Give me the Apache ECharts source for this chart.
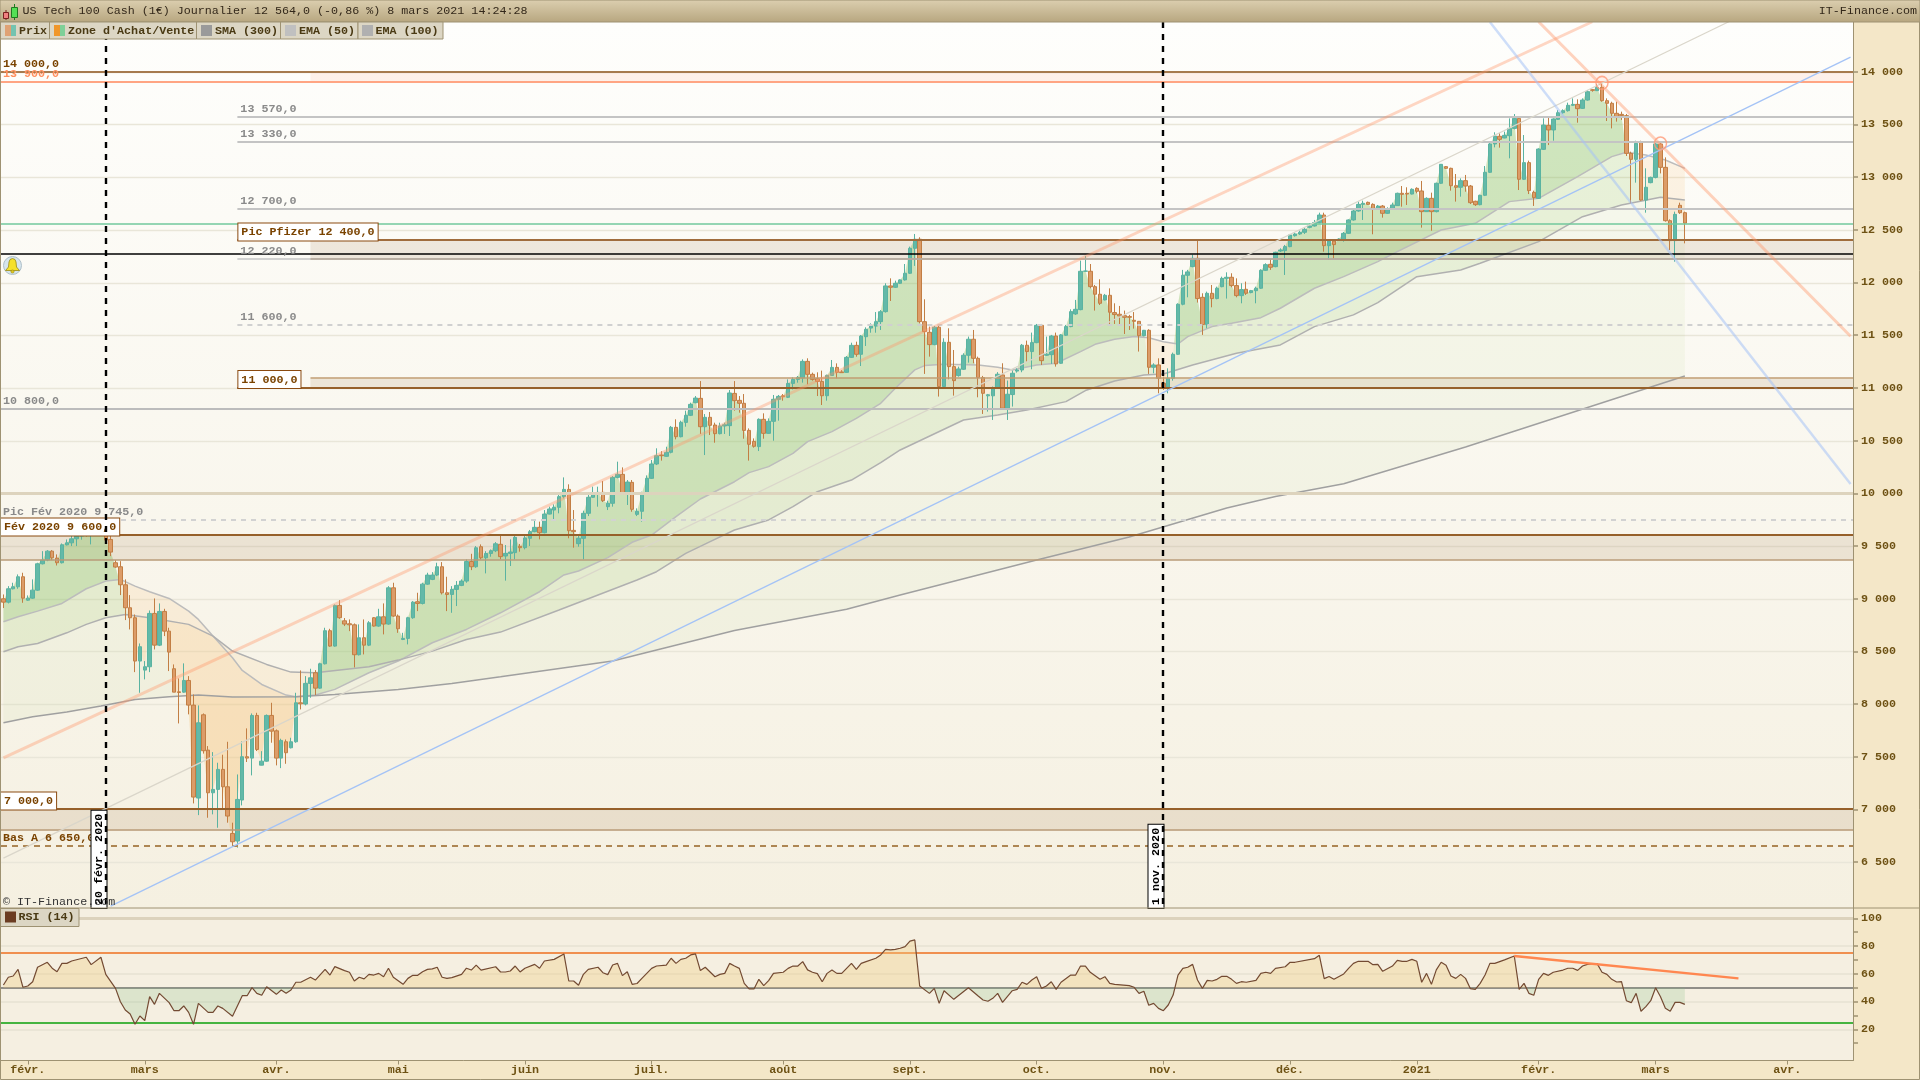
<!DOCTYPE html>
<html><head><meta charset="utf-8"><title>US Tech 100 Cash</title>
<style>html,body{margin:0;padding:0;background:#f4e7c8}#c{width:1920px;height:1080px}</style>
<script src="https://cdn.jsdelivr.net/npm/echarts@6/dist/echarts.min.js"></script></head>
<body><div id="c"></div><script>
const opens=[8999,8967,9094,9113,9208,8986,9005,9081,9331,9366,
9451,9385,9341,9511,9530,9568,9594,9640,9620,9680,
9710,9640,9562,9341,9303,9132,8914,8819,8408,8322,
8354,8860,8559,8879,8692,8335,8116,8113,8224,7990,
7108,7898,7563,7158,7190,7380,7215,6772,6700,7089,
7500,7487,7892,7420,7458,7892,7746,7487,7642,7585,
7642,8012,8000,8196,8297,8151,8382,8696,8550,8936,
8790,8762,8752,8468,8629,8559,8819,8740,8828,8759,
9103,8835,8613,8623,8819,8971,8955,9138,9183,9224,
9303,9056,9040,9088,9126,9167,9353,9303,9493,9388,
9429,9455,9516,9405,9430,9437,9497,9484,9573,9636,
9677,9626,9803,9841,9867,9968,10037,9648,9522,9573,
9810,9962,9990,10009,9873,9905,10151,10180,10000,10104,
9800,9829,10000,10142,10278,10364,10351,10389,10626,10537,
10673,10740,10860,10901,10632,10721,10648,10566,10639,10642,
10948,10882,10854,10597,10493,10443,10702,10569,10683,10892,
10926,10911,11043,11081,11094,11252,11129,11088,11062,10926,
11119,11195,11152,11148,11290,11404,11319,11486,11568,11587,
11629,11724,11968,11955,11993,12025,12088,12325,12411,11629,
11528,11411,11576,11013,11433,11202,11117,11177,11310,11462,
11281,11098,10925,10925,10997,11123,10807,10937,11160,11170,
11405,11345,11430,11594,11310,11316,11493,11234,11500,11582,
11702,11743,12107,12107,11961,11889,11835,11879,11715,11699,
11686,11677,11642,11632,11496,11547,11196,11218,11044,11007,
11092,11319,11794,12069,12151,12230,11860,11601,11898,11848,
11961,12040,12050,11971,11876,11936,11905,11923,11946,12116,
12173,12151,12300,12303,12341,12445,12461,12477,12524,12537,
12568,12641,12350,12394,12404,12404,12467,12594,12679,12742,
12761,12742,12698,12726,12657,12695,12730,12847,12847,12840,
12894,12869,12673,12799,12673,12942,13100,13084,12919,12904,
12967,12916,12771,12739,12828,13046,13315,13388,13372,13394,
13463,13558,12980,13138,12856,12799,13264,13492,13448,13549,
13612,13631,13682,13691,13653,13732,13830,13821,13853,13726,
13701,13606,13596,13584,13226,13169,13331,12783,12948,12998,
13315,13093,12587,12398,12733,12663];
const closes=[8967,9094,9113,9208,9005,9005,9081,9331,9366,9451,
9388,9341,9511,9530,9568,9594,9640,9620,9680,9710,
9720,9556,9442,9300,9132,8914,8819,8408,8544,8354,
8860,8559,8879,8692,8493,8113,8110,8224,7990,7117,
7822,7557,7158,7190,7380,7215,6937,6693,7095,7500,
7487,7892,7569,7458,7892,7743,7487,7655,7538,7642,
8012,8002,8196,8249,8151,8382,8696,8550,8936,8819,
8759,8752,8468,8629,8559,8771,8740,8828,8759,9103,
8835,8714,8623,8819,8967,8955,9138,9224,9224,9303,
9056,9040,9088,9126,9167,9353,9303,9483,9388,9429,
9455,9521,9399,9430,9443,9582,9484,9576,9636,9677,
9626,9803,9851,9867,9968,10037,9645,9636,9573,9810,
9962,9990,10009,9930,9905,10151,10180,10000,10107,9848,
9829,10000,10142,10278,10357,10357,10389,10626,10537,10673,
10740,10844,10904,10632,10721,10645,10566,10639,10651,10952,
10879,10854,10597,10465,10446,10702,10569,10683,10892,10920,
10917,11043,11081,11100,11252,11129,11081,11062,10926,11119,
11195,11148,11145,11290,11404,11319,11492,11556,11587,11629,
11723,11968,11955,11993,12025,12088,12325,12411,11629,11534,
11411,11576,11013,11433,11202,11069,11180,11310,11462,11281,
11098,10949,10935,10997,11130,10807,10940,11139,11170,11405,
11345,11430,11594,11259,11320,11493,11228,11503,11582,11724,
11746,12107,12110,11961,11889,11803,11879,11718,11696,11683,
11670,11670,11632,11496,11547,11196,11218,11092,10997,11092,
11319,11794,12069,12101,12230,11848,11601,11898,11848,11946,
12040,12050,11971,11876,11933,11898,11923,11946,12116,12170,
12145,12287,12309,12341,12452,12461,12477,12505,12537,12569,
12641,12350,12394,12360,12413,12467,12594,12679,12742,12752,
12742,12698,12726,12657,12695,12736,12847,12837,12840,12885,
12866,12673,12799,12673,12942,13122,13084,12919,12904,12967,
12916,12758,12739,12828,13046,13315,13391,13359,13397,13463,
13558,12980,13138,12872,12806,13267,13495,13448,13552,13612,
13631,13682,13691,13650,13732,13811,13824,13853,13726,13701,
13606,13568,13584,13226,13169,13321,12783,12904,12998,13315,
13093,12587,12398,12647,12663,12564];
const lows=[8911,8955,9088,9094,8961,8980,8999,9075,9325,9356,
9366,9315,9334,9505,9499,9499,9560,9590,9515,9650,
9640,9530,9404,9293,9034,8797,8708,8303,8107,8234,
8303,8518,8550,8645,8313,8113,7816,8107,7902,7057,
6946,7530,6921,6953,6826,7000,6874,6652,6637,7038,
7450,7323,7554,7418,7452,7633,7418,7392,7433,7579,
7633,7949,7987,8060,8085,8145,8376,8544,8544,8809,
8740,8692,8348,8461,8471,8550,8735,8733,8661,8752,
8828,8676,8607,8566,8809,8882,8945,9132,9176,9214,
9040,8882,8866,8930,9119,9151,9271,9293,9372,9240,
9398,9442,9373,9171,9310,9373,9446,9468,9500,9630,
9563,9620,9800,9740,9810,9952,9573,9484,9493,9373,
9784,9958,9873,9917,9841,9873,10142,9984,9889,9825,
9784,9731,9993,10136,10268,10310,10347,10379,10512,10531,
10632,10733,10854,10563,10363,10553,10480,10559,10563,10544,
10784,10765,10518,10310,10433,10401,10518,10566,10499,10689,
10879,10904,10986,11050,11050,11034,11069,10923,10838,10879,
11113,11091,11145,11145,11284,11296,11208,11398,11524,11524,
11550,11715,11825,11949,11987,12018,12082,12158,11613,11133,
11297,11405,10918,11006,11082,10927,11107,11171,11240,11234,
10911,10753,10775,10696,10990,10797,10696,10823,11145,11149,
11250,11177,11424,11218,11304,11228,11202,11228,11493,11576,
11693,11737,12100,11945,11734,11787,11830,11598,11607,11594,
11512,11550,11563,11345,11490,11133,11139,10949,10981,10949,
11069,11313,11784,11860,12145,11810,11503,11566,11765,11841,
11955,11848,11955,11860,11803,11882,11898,11803,11939,12110,
12120,12145,12290,12072,12335,12436,12452,12461,12515,12531,
12562,12293,12214,12224,12400,12388,12461,12587,12672,12594,
12736,12458,12695,12616,12651,12689,12727,12720,12736,12836,
12847,12521,12670,12492,12666,12935,13078,12872,12768,12815,
12862,12745,12727,12733,12821,13040,13283,13280,13369,13179,
13454,12878,12973,12840,12727,12793,13258,13305,13346,13543,
13600,13622,13675,13517,13647,13726,13811,13818,13716,13533,
13463,13527,13543,13201,12752,12948,12777,12663,12942,12989,
13036,12578,12309,12198,12651,12372];
const highs=[9040,9119,9151,9230,9246,9031,9183,9341,9451,9461,
9461,9420,9524,9562,9610,9641,9670,9660,9720,9760,
9760,9700,9594,9366,9356,9183,9034,8850,8575,8408,
8888,9002,8955,8904,8724,8376,8243,8386,8265,8091,
7987,7911,7601,7544,7443,7519,7642,6874,7332,7645,
7769,7911,7917,7553,7901,8012,7759,7671,7664,7680,
8107,8319,8265,8335,8322,8392,8724,8714,8945,8986,
8816,8803,8765,8756,8803,8787,8825,8904,8955,9119,
9151,8850,8676,8828,8977,9056,9151,9246,9252,9341,
9347,9208,9119,9167,9183,9372,9426,9499,9515,9451,
9467,9537,9604,9509,9563,9595,9519,9595,9652,9747,
9731,9841,9873,9895,9993,10151,10085,9841,9595,9835,
9993,10063,10063,10117,9930,10164,10300,10246,10126,10126,
9857,10015,10170,10316,10427,10400,10442,10639,10702,10689,
10784,10860,10923,11065,10752,10771,10670,10670,10670,10980,
11065,10923,10942,10616,10521,10711,10759,10711,10933,10933,
10942,11081,11100,11113,11271,11281,11145,11148,11164,11126,
11265,11233,11170,11303,11429,11439,11502,11575,11613,11720,
11739,11993,12040,12018,12031,12176,12341,12461,12430,11841,
11582,11588,11588,11471,11566,11360,11202,11329,11487,11550,
11297,11114,10943,11013,11150,11234,11070,11164,11186,11417,
11449,11525,11607,11607,11487,11503,11525,11512,11598,11746,
11835,12208,12252,12176,11977,12031,11892,11945,11803,11778,
11734,11693,11720,11632,11550,11557,11234,11281,11107,11186,
11335,11803,12120,12120,12265,12411,11898,11914,11977,11961,
12056,12097,12088,12040,11993,12009,11930,11961,12126,12183,
12230,12293,12325,12357,12461,12474,12493,12524,12562,12594,
12663,12663,12404,12410,12420,12480,12600,12695,12768,12777,
12768,12752,12736,12736,12714,12758,12853,12916,12904,12894,
12904,12964,12809,12853,12948,13125,13106,13090,13030,12989,
13021,12926,12777,12834,13106,13328,13426,13416,13432,13558,
13599,13568,13400,13157,12872,13274,13558,13574,13558,13637,
13644,13707,13748,13739,13748,13827,13836,13884,13897,13748,
13716,13716,13622,13600,13242,13346,13346,13084,13005,13328,
13325,13188,12600,12673,12758,12673];

const ema50=[[0,8781],[3,8828],[7,8882],[12,8955],[17,9094],[21,9167],[24,9183],[27,9119],[30,9066],[34,9002],[38,8882],[40,8803],[43,8645],[47,8439],[49,8319],[53,8186],[58,8085],[60,8069],[64,8085],[68,8139],[75,8297],[81,8408],[88,8582],[95,8708],[102,8866],[110,9066],[115,9225],[118,9263],[124,9389],[129,9535],[133,9604],[138,9778],[143,9946],[150,10110],[153,10196],[157,10253],[162,10379],[165,10490],[170,10585],[175,10711],[180,10854],[183,10997],[187,11171],[189,11212],[193,11224],[200,11218],[204,11196],[207,11171],[212,11218],[216,11234],[221,11345],[224,11414],[228,11462],[232,11487],[235,11477],[238,11439],[241,11417],[243,11487],[248,11582],[252,11613],[258,11667],[262,11756],[269,11946],[275,12056],[282,12199],[286,12293],[295,12499],[302,12562],[309,12768],[315,12799],[323,13005],[330,13195],[333,13236],[337,13210],[341,13163],[345,13084]];
const ema100=[[0,8496],[3,8544],[7,8575],[13,8676],[17,8756],[21,8819],[25,8850],[30,8819],[38,8756],[43,8645],[47,8503],[54,8376],[59,8303],[64,8297],[75,8354],[81,8417],[88,8502],[95,8613],[102,8683],[114,8893],[122,9035],[130,9177],[134,9256],[140,9430],[145,9541],[150,9652],[157,9747],[162,9873],[167,10015],[174,10126],[180,10291],[184,10411],[197,10696],[204,10744],[210,10791],[218,10870],[222,10975],[228,11066],[234,11123],[238,11133],[244,11218],[253,11329],[262,11408],[269,11582],[277,11693],[282,11810],[290,12056],[299,12119],[303,12183],[315,12388],[324,12625],[332,12736],[340,12809],[345,12783]];
const sma300=[[0,7822],[6,7879],[13,7924],[20,7981],[27,8044],[34,8069],[40,8085],[47,8066],[60,8069],[68,8091],[81,8139],[92,8196],[102,8259],[125,8408],[150,8697],[173,8899],[184,9035],[212,9367],[231,9585],[251,9860],[261,9969],[275,10091],[300,10440],[345,11113]];
const rsiPoints=[[0,51.9],[1,57.5],[2,58.4],[3,63.2],[4,50.3],[5,51.2],[6,54.3],[7,64.7],[9,68.3],[10,64],[11,61.5],[12,67.5],[13,67.5],[14,69.2],[17,71.9],[18,66.6],[20,71.9],[21,59.6],[23,49.5],[24,39.9],[25,33.9],[26,31],[27,23.6],[28,29.6],[29,26.2],[30,43.5],[31,38],[32,45.9],[34,39.2],[35,33.4],[36,33.4],[37,36.8],[38,32.2],[39,23.6],[40,38.7],[42,32.2],[43,32.2],[44,36.8],[45,35.1],[47,29.4],[49,44.2],[50,44.2],[51,50],[52,45.9],[53,44.5],[54,50.7],[56,45.2],[57,48.3],[58,45.9],[59,48.3],[60,53.9],[61,53.9],[63,57.5],[64,55.5],[66,63.2],[67,59.1],[68,65.2],[70,62.3],[71,61.1],[72,54.8],[73,57.5],[74,56.3],[75,59.6],[76,59.1],[77,60.3],[78,57.9],[79,64],[80,57.5],[82,52.4],[83,56.7],[84,58.9],[85,58.9],[86,61.5],[87,63.2],[88,63.5],[89,64.7],[90,57.5],[91,56.7],[92,57.2],[94,59.6],[95,64],[96,62.7],[97,66.3],[98,62.7],[101,65.1],[102,61.3],[103,61.3],[104,62],[105,65.6],[106,61.3],[107,64],[109,66.8],[110,64],[111,69.2],[113,70.4],[115,74.3],[116,54.8],[117,54.8],[118,51.7],[119,59.6],[120,63.2],[122,64.7],[123,60.8],[124,59.4],[125,66.3],[126,67.5],[127,58.7],[128,61.5],[129,52.4],[130,53],[131,56.7],[133,63.9],[134,65.6],[136,66.3],[137,71.2],[138,67.5],[139,70.4],[140,71.2],[141,73.6],[142,74.3],[143,62.3],[144,64.7],[146,57.9],[147,59.6],[148,60.3],[149,67.5],[150,65.6],[151,63.9],[152,53.1],[153,49.1],[154,49.1],[155,56],[156,51.5],[157,55.1],[158,60.3],[160,61.1],[161,63.9],[162,65.6],[163,65.6],[164,68.8],[165,62.8],[166,61.1],[167,60.1],[168,54.3],[169,60.3],[170,62.8],[171,60.3],[172,60.3],[174,67.5],[175,63.2],[176,67.5],[177,68.8],[179,71.2],[180,73.6],[181,77.6],[182,77.2],[183,77.6],[184,78.4],[185,79.6],[186,83.6],[187,84.4],[188,51.2],[190,45.9],[191,49.5],[192,38.7],[193,47.8],[195,41.6],[198,50],[200,44],[201,41.1],[202,40.2],[203,42.3],[204,45.9],[205,39.4],[207,47.8],[208,48.8],[209,53.9],[210,52.4],[211,55.5],[212,57.9],[213,49.5],[214,51.2],[215,54.3],[216,48.8],[217,53.9],[219,59.1],[220,59.1],[221,65.6],[222,65.6],[223,61.1],[225,56],[226,57.9],[227,53.1],[228,52.4],[231,51.5],[232,50.3],[233,45.9],[234,47.4],[235,37.3],[236,38.7],[237,35.1],[238,33.4],[239,37.5],[240,44.7],[241,59.1],[242,63.9],[243,64.7],[244,66.8],[245,55.5],[246,49.5],[247,55.3],[248,54.8],[249,56],[250,58.2],[251,58.2],[252,56],[253,53.1],[254,54.3],[255,53.9],[257,55.3],[258,60.3],[259,61.1],[260,60.3],[261,63.9],[263,65.1],[264,68.3],[265,68.3],[269,70.9],[270,73.3],[271,56.5],[272,58],[273,56],[275,59.9],[276,63.9],[277,67.5],[278,69],[280,69],[281,66.6],[282,66.8],[283,61.8],[285,65.6],[286,69.7],[287,69],[288,69],[289,70.4],[290,69],[291,53.9],[292,60.3],[293,52.4],[294,62.8],[295,68.3],[296,66.1],[297,58.4],[298,56.7],[299,59.6],[300,56.7],[301,49.3],[302,48.8],[303,53.1],[304,59.1],[305,67.5],[306,67.5],[308,70],[310,72.8],[311,48.8],[312,53.1],[313,45.9],[314,44.5],[315,56],[316,60.3],[317,58.9],[318,61.1],[320,62.7],[321,64],[322,64],[323,62.5],[324,65.6],[325,66.8],[326,67.3],[327,67.3],[328,61.1],[329,59.6],[330,56],[331,54.1],[332,54.3],[333,40.6],[334,39.2],[335,45.9],[336,33],[337,36.3],[338,40.6],[339,50],[340,43.5],[341,35.1],[342,33],[343,39.4],[344,39.4],[345,38]];

const slotCount=380;
const monthIndex=[5,29,56,81,107,133,160,186,212,238,264,290,315,339,366];
const monthNames=['févr.','mars','avr.','mai','juin','juil.','août','sept.','oct.','nov.','déc.','2021','févr.','mars','avr.'];
const priceTicks=[6500,7000,7500,8000,8500,9000,9500,10000,10500,11000,11500,12000,12500,13000,13500,14000];
const rsiLabels=[20,40,60,80,100];
const rsiTicks=[10,20,30,40,50,60,70,80,90,100];
const vLineIndex=[21,238];
const vLineLabels=['20 févr. 2020','1 nov. 2020'];
const peakPoints=[[328,13895],[340,13320]];

const risingOrange=[[0,7490],[326,14475]];
const risingGray=[[0,6538],[354,14475]];
const risingBlue=[[22,6083],[379,14140]];
const fallingBlue=[[305,14472],[379,10088]];
const fallingOrange=[[315,14475],[379,11490]];
const rsiTrend=[[310,72.8],[356,56.7]];

const MONO='"Liberation Mono","DejaVu Sans Mono",monospace';
const FS='11.7px ';
const BROWN='#7a4300',GRAYT='#8a8a8a';
const categories=Array.from({length:slotCount},(_,i)=>{const k=monthIndex.indexOf(i);return k>=0?monthNames[k]:''});
const candleData=opens.map((o,i)=>[o,closes[i],lows[i],highs[i]]);

// value of a polyline, at a slot index (for the area fills only)
function polyAt(pts,x){for(let k=0;k<pts.length-1;k++){const a=pts[k],b=pts[k+1];if(x>=a[0]&&x<=b[0])return a[1]+(b[1]-a[1])*(x-a[0])/(b[0]-a[0]);}return pts[pts.length-1][1];}

// area between two edges (pixel arrays), one polygon per run of same sign
function bandPolys(xs,top,base,upColor,downColor,api){
  const kids=[];let upper=[],lower=[],sign=0;
  const flush=()=>{if(upper.length>1)kids.push({type:'polygon',silent:true,shape:{points:upper.concat(lower.slice().reverse())},style:{fill:sign>0?upColor:downColor}});};
  for(let k=0;k<xs.length;k++){
    const d=base[k][1]-top[k][1];const s=d>=0?1:-1;
    if(sign!==0&&s!==sign){
      const dPrev=base[k-1][1]-top[k-1][1];const t=dPrev/(dPrev-d);
      const p=[top[k-1][0]+(top[k][0]-top[k-1][0])*t,top[k-1][1]+(top[k][1]-top[k-1][1])*t];
      upper.push(p);lower.push(p);flush();upper=[p];lower=[p];
    }
    sign=s;upper.push(top[k]);lower.push(base[k]);
  }
  flush();return {type:'group',children:kids};
}
function maFill(name,pts,up,down){
  return {type:'custom',name:name,xAxisIndex:0,yAxisIndex:0,z:2,silent:true,clip:true,data:[[0,closes[0]]],
   renderItem(p,api){
     const idx=closes.map((_,i)=>i);
     const top=idx.map(i=>api.coord([i,closes[i]]));
     const base=idx.map(i=>api.coord([i,polyAt(pts,i)]));
     return bandPolys(idx,top,base,up,down,api);
   }};
}
const crisp=(v,w)=>{const r=Math.round(v);return (Math.round(w)%2===1)?r+0.5:r;};

// horizontal levels: value, first slot
const hLineValues=[14000,13900,13570,13330,12700,12400,12553,12268,12220,12220,11600,11090,11000,10800,10000,9745,9600,9370,7000,6800,6650];
const hLineStarts=[0,0,48,48,48,48,0,0,48,63,48,63,48,0,0,0,0,0,0,0,0];
const hLineStyles=[
 ['#a67a4e',2],['#ffa583',2],['#c4c4c4',2],['#c4c4c4',2],['#c4c4c4',2],['#a06c3c',2],['#72c99c',1.5],['#000000',1.5],['#c4c4c4',1.5],['#b2a394',1.5],
 ['#d0d0d0',2,[5,5]],['#c09c72',1.5],['#96602a',2],['#bcbcbc',2],['#ddd3bd',3],['#d2d2d2',2,[5,5]],['#96602a',2],['#b89b78',1.5],['#96602a',2],['#b89b78',1.5],['#ad8653',2,[6,5]]];
const bandValues=[[13900,14000],[12220,12400],[11000,11090],[9370,9600],[6800,7000]];
const bandStarts=[63,63,63,0,0];
const bandColors=['rgba(255,140,100,.11)','rgba(150,100,50,.13)','rgba(150,100,50,.13)','rgba(150,100,50,.13)','rgba(150,100,50,.13)'];

const textLabels=[
 ['14 000,0',14000,0,BROWN,true,2,false],
 ['13 900,0',13900,0,'#ff8f5e',true,2,false],
 ['13 570,0',13570,48,GRAYT,true,2,false],
 ['13 330,0',13330,48,GRAYT,true,2,false],
 ['12 700,0',12700,48,GRAYT,true,2,false],
 ['12 220,0',12220,48,GRAYT,true,2,false],
 ['11 600,0',11600,48,GRAYT,true,2,false],
 ['10 800,0',10800,0,GRAYT,true,2,false],
 ['Pic Fév 2020 9 745,0',9745,0,GRAYT,true,2,false],
 ['Bas A 6 650,0',6650,0,BROWN,true,2,false],
 ['Pic Pfizer 12 400,0',12400,48,BROWN,true,0,true],
 ['11 000,0',11000,48,BROWN,true,0,true],
 ['Fév 2020 9 600,0',9600,0,BROWN,true,0,true],
 ['7 000,0',7000,0,BROWN,true,0,true]];

const single=(z,fn)=>({type:'custom',xAxisIndex:0,yAxisIndex:0,z:z,silent:true,clip:false,data:[[0,10000]],renderItem:fn});
const tline=(name,data,color,width,z)=>({type:'line',name:name,data:data,xAxisIndex:0,yAxisIndex:0,showSymbol:false,symbol:'none',silent:true,z:z||5,lineStyle:{color:color,width:width},animation:false});

const swatch=(x,y,w,h,c,z)=>({type:'rect',z:z||100,silent:true,shape:{x,y,width:w,height:h},style:{fill:c}});
const gtext=(x,y,t,c,b,z)=>({type:'text',z:z||101,silent:true,x,y,style:{text:t,fill:c,font:(b?'bold ':'')+FS+MONO,verticalAlign:'middle',align:'left'}});
const frame='#9e9272';
const legendCells=[[0,49],[49,147],[196,84],[280,77.5],[357.5,85]];
const axisFont={fontFamily:MONO,fontSize:11.7,fontWeight:'bold',color:'#6e5214'};
const graphics=[
 {type:'rect',z:100,silent:true,shape:{x:0,y:0,width:1920,height:22},style:{fill:{type:'linear',x:0,y:0,x2:0,y2:1,colorStops:[{offset:0,color:'#dccfb0'},{offset:1,color:'#b7a67f'}]},stroke:frame,lineWidth:1}},
 ...legendCells.map(c=>({type:'rect',z:100,silent:true,shape:{x:c[0]+.5,y:22,width:c[1],height:17},style:{fill:'#dcd6c4',stroke:frame,lineWidth:1}})),
 swatch(5,25,6,11,'#dfa274'),swatch(11,25,5,11,'#74c3b0'),
 swatch(54,25,6,11,'#f0962a'),swatch(60,25,5,11,'#7fd098'),
 swatch(201,25,11,11,'#9a9a9a'),swatch(285,25,11,11,'#c0c0c0'),swatch(362,25,11,11,'#b0b0b0'),
 gtext(19,31,'Prix','#4a3a14',true),gtext(68,31,"Zone d'Achat/Vente",'#4a3a14',true),gtext(215,31,'SMA (300)','#4a3a14',true),gtext(299,31,'EMA (50)','#4a3a14',true),gtext(375.5,31,'EMA (100)','#4a3a14',true),
 {type:'line',z:101,silent:true,shape:{x1:6,y1:10,x2:6,y2:20},style:{stroke:'#7a2020',lineWidth:1}},
 {type:'rect',z:101,silent:true,shape:{x:3.5,y:12.5,width:5,height:6},style:{fill:'#f08080',stroke:'#7a2020',lineWidth:1}},
 {type:'line',z:101,silent:true,shape:{x1:14.5,y1:4,x2:14.5,y2:20},style:{stroke:'#207a20',lineWidth:1}},
 {type:'rect',z:101,silent:true,shape:{x:11.5,y:7.5,width:6,height:10},style:{fill:'#55e055',stroke:'#207a20',lineWidth:1}},
 gtext(22.5,11,'US Tech 100 Cash (1€) Journalier 12 564,0 (-0,86 %) 8 mars 2021 14:24:28','#33281a',false),
 {type:'text',z:101,silent:true,x:1917,y:11,style:{text:'IT-Finance.com',fill:'#33281a',font:FS+MONO,verticalAlign:'middle',align:'right'}},
 {type:'rect',z:20,silent:true,shape:{x:0.5,y:908.5,width:78.5,height:18},style:{fill:'#dcd6c4',stroke:frame,lineWidth:1}},
 swatch(5,911.5,11,11,'#6b3c22',21),
 gtext(18.5,917.5,'RSI (14)','#4a3a14',true,21),
 gtext(3,902,'© IT-Finance.com','#333333',false,19),
 {type:'line',z:18,silent:true,shape:{x1:0,y1:908,x2:1920,y2:908},style:{stroke:frame,lineWidth:1}},
 {type:'rect',z:99,silent:true,shape:{x:0.5,y:0.5,width:1919,height:1079},style:{fill:'none',stroke:frame,lineWidth:1}},
 {type:'circle',z:30,silent:true,shape:{cx:12.5,cy:265.5,r:9},style:{fill:'#d6e5ec',stroke:'#aebfc8',lineWidth:1}},
 {type:'polygon',z:31,silent:true,shape:{points:[[12.5,258.5],[15,259.5],[16,262],[16.5,267],[19.5,270.5],[5.5,270.5],[8.5,267],[9,262],[10,259.5]]},style:{fill:'#f5e12a',stroke:'#9a8a10',lineWidth:.8}},
 {type:'circle',z:31,silent:true,shape:{cx:12.5,cy:271.5,r:1.6},style:{fill:'#e0c820',stroke:'#9a8a10',lineWidth:.6}}
];

const option={
 animation:false,backgroundColor:'#f4e7c8',
 textStyle:{fontFamily:MONO},
 grid:[
  {left:1,top:22,width:1852,height:886,show:true,borderWidth:0,backgroundColor:{type:'linear',x:0,y:0,x2:0,y2:1,colorStops:[{offset:0,color:'#fefefc'},{offset:1,color:'#f5f0e1'}]}},
  {left:1,top:908,width:1852,height:152.5,show:true,borderWidth:0,backgroundColor:'#f5efe1'}
 ],
 xAxis:[
  {type:'category',gridIndex:0,data:categories,axisLine:{show:false},axisTick:{show:false},axisLabel:{show:false},splitLine:{show:false}},
  {type:'category',gridIndex:1,data:categories,axisLine:{show:true,onZero:false,lineStyle:{color:frame,width:1}},
   axisTick:{show:true,alignWithLabel:true,length:4,interval:(i)=>monthIndex.includes(i),lineStyle:{color:frame}},
   axisLabel:{show:true,interval:(i)=>monthIndex.includes(i),...axisFont,margin:4,hideOverlap:false},splitLine:{show:false}}
 ],
 yAxis:[
  {type:'value',gridIndex:0,position:'right',min:6064.5,max:14472.6,
   axisLine:{show:true,lineStyle:{color:frame}},
   axisTick:{show:true,length:5,customValues:priceTicks,lineStyle:{color:frame,width:1.5}},
   axisLabel:{show:true,customValues:priceTicks,...axisFont,margin:8,formatter:v=>String(v).replace(/(\d)(\d{3})$/,'$1 $2')},
   splitLine:{show:false}},
  {type:'value',gridIndex:1,position:'right',min:-2.49,max:107.42,
   axisLine:{show:true,lineStyle:{color:frame}},
   axisTick:{show:true,length:5,customValues:rsiTicks,lineStyle:{color:frame,width:1.5}},
   axisLabel:{show:true,customValues:rsiLabels,...axisFont,margin:8},
   splitLine:{show:false}}
 ],
 graphic:{elements:graphics},
 series:[
  // price grid lines
  single(1,(p,api)=>({type:'group',children:priceTicks.filter(v=>v!==10000).map(v=>{const y=crisp(api.coord([0,v])[1],1);return {type:'line',shape:{x1:p.coordSys.x,y1:y,x2:p.coordSys.x+p.coordSys.width,y2:y},style:{stroke:'#e9e6d9',lineWidth:1.5}}})})),
  // zones
  single(1,(p,api)=>({type:'group',children:bandValues.map((b,i)=>{const x0=bandStarts[i]?api.coord([bandStarts[i],b[0]])[0]:p.coordSys.x;const y1=api.coord([0,b[1]])[1],y0=api.coord([0,b[0]])[1];return {type:'rect',shape:{x:x0,y:y1,width:p.coordSys.x+p.coordSys.width-x0,height:y0-y1},style:{fill:bandColors[i]}}})})),
  maFill('fill SMA',sma300,'rgba(150,200,100,.07)','rgba(245,190,90,.12)'),
  maFill('fill EMA100',ema100,'rgba(150,200,100,.14)','rgba(245,190,110,.13)'),
  maFill('fill EMA50',ema50,'rgba(120,185,90,.22)','rgba(245,185,110,.15)'),
  {type:'line',name:'EMA (50)',data:ema50,xAxisIndex:0,yAxisIndex:0,symbol:'none',z:3,silent:true,lineStyle:{color:'#bcbcbc',width:1.5}},
  {type:'line',name:'EMA (100)',data:ema100,xAxisIndex:0,yAxisIndex:0,symbol:'none',z:3,silent:true,lineStyle:{color:'#b0b0b0',width:1.5}},
  {type:'line',name:'SMA (300)',data:sma300,xAxisIndex:0,yAxisIndex:0,symbol:'none',z:3,silent:true,lineStyle:{color:'#a0a0a0',width:1.5}},
  {type:'candlestick',name:'Prix',data:candleData,xAxisIndex:0,yAxisIndex:0,z:4,barWidth:4,silent:true,
   itemStyle:{color:'#63b9a8',color0:'#dc9c68',borderColor:'#5ab3a1',borderColor0:'#c27e44',borderWidth:1}},
  tline('trend up orange',risingOrange,'rgba(255,150,105,.38)',3),
  tline('trend up gray',risingGray,'#dad6ca',1.3),
  tline('trend up blue',risingBlue,'#a4c3f6',1.3),
  tline('trend down blue',fallingBlue,'rgba(165,195,245,.55)',2.5),
  tline('trend down orange',fallingOrange,'rgba(255,150,105,.42)',3),
  // level lines
  single(5,(p,api)=>({type:'group',children:hLineValues.map((v,i)=>{const st=hLineStyles[i];const x0=hLineStarts[i]?api.coord([hLineStarts[i],v])[0]:p.coordSys.x;const y=crisp(api.coord([0,v])[1],st[1]);return {type:'line',shape:{x1:x0,y1:y,x2:p.coordSys.x+p.coordSys.width,y2:y},style:{stroke:st[0],lineWidth:st[1],lineDash:st[2]||null}}})})),
  {type:'scatter',name:'peaks',data:peakPoints,xAxisIndex:0,yAxisIndex:0,z:6,silent:true,symbol:'circle',symbolSize:[12,13],itemStyle:{color:'rgba(255,255,255,0)',borderColor:'#ff9a78',borderWidth:1.5}},
  // level labels
  single(7,(p,api)=>({type:'group',children:textLabels.map(l=>{
    const xp=l[2]?api.coord([l[2],l[1]])[0]+1:p.coordSys.x;const y=api.coord([0,l[1]])[1];
    const box=l[6];
    const st={text:l[0],fill:l[3],font:(l[4]?'bold ':'')+FS+MONO,align:'left',verticalAlign:'bottom'};
    if(box){st.backgroundColor='#ffffff';st.borderColor='#8a4a10';st.borderWidth=1;st.padding=[3,3,2,3];}
    return {type:'text',x:xp+(box?0:2),y:box?y:y-l[5],style:st};
  })})),
  // vertical event lines
  single(8,(p,api)=>({type:'group',children:vLineIndex.flatMap((ix,i)=>{
    const x=Math.round(api.coord([ix,10000])[0]);const bot=p.coordSys.y+p.coordSys.height;
    return [
     {type:'text',x:x-7,y:bot,rotation:Math.PI/2,style:{text:vLineLabels[i],fill:'#000',font:'bold '+FS+MONO,align:'left',verticalAlign:'middle',backgroundColor:'#fff',borderColor:'#000',borderWidth:1,padding:[2,3,1,3]}},
     {type:'line',shape:{x1:x,y1:p.coordSys.y,x2:x,y2:bot},style:{stroke:'#000',lineWidth:2.4,lineDash:[6,6]}}
    ];
  })})),
  // RSI fill
  {type:'custom',name:'RSI fill',xAxisIndex:1,yAxisIndex:1,z:2,silent:true,clip:true,data:[[0,50]],
   renderItem(p,api){
     const top=rsiPoints.map(q=>api.coord([q[0],q[1]]));
     const base=rsiPoints.map(q=>api.coord([q[0],50]));
     return bandPolys(rsiPoints,top,base,'rgba(240,205,130,.36)','rgba(130,190,130,.22)',api);
   }},
  {type:'line',name:'RSI (14)',data:rsiPoints,xAxisIndex:1,yAxisIndex:1,symbol:'none',z:3,silent:true,lineStyle:{color:'#734a32',width:1.2},
   markLine:{silent:true,symbol:'none',animation:false,label:{show:false},z:1,data:[
    {yAxis:100,lineStyle:{color:'#dcd2bc',width:3,type:'solid'}},
    {yAxis:80,lineStyle:{color:'#e6e2d2',width:1.5,type:'solid'}},
    {yAxis:60,lineStyle:{color:'#e6e2d2',width:1.5,type:'solid'}},
    {yAxis:40,lineStyle:{color:'#e6e2d2',width:1.5,type:'solid'}},
    {yAxis:20,lineStyle:{color:'#e6e2d2',width:1.5,type:'solid'}},
    {yAxis:75,lineStyle:{color:'#ee6f1e',width:1.5,type:'solid'}},
    {yAxis:50,lineStyle:{color:'#6e6e6a',width:1.5,type:'solid'}},
    {yAxis:25,lineStyle:{color:'#0aa00a',width:1.5,type:'solid'}}
   ]}},
  {type:'line',name:'RSI trend',data:rsiTrend,xAxisIndex:1,yAxisIndex:1,symbol:'none',z:4,silent:true,lineStyle:{color:'#ff8750',width:2.5}}
 ]
};
echarts.init(document.getElementById('c'),null,{renderer:'canvas',width:1920,height:1080}).setOption(option);
</script></body></html>
